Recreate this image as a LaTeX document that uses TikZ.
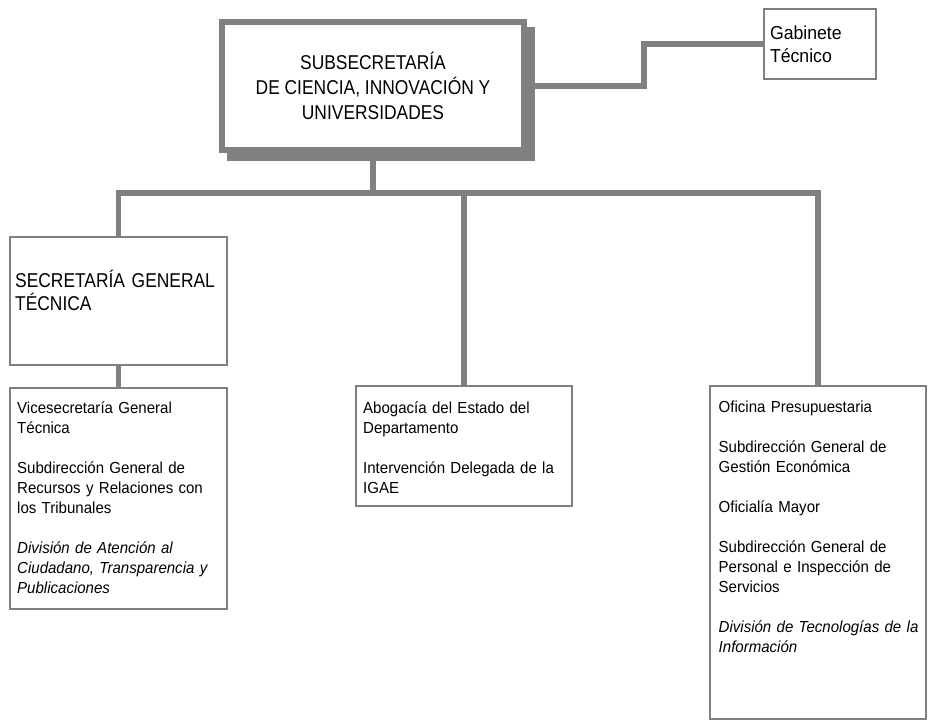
\documentclass[tikz,border=0pt]{standalone}
\usepackage{fontspec}
\setmainfont{Liberation Sans}[FakeStretch=0.94]
\newfontfamily\narrowfont{Liberation Sans}[FakeStretch=0.87]
\usepackage{xcolor}
\definecolor{boxgray}{RGB}{128,128,128}

\begin{document}
\begin{tikzpicture}[
                line join=miter,
                headbox/.style={shape=rectangle, draw=boxgray, fill=white, line width=6pt, inner sep=0pt, align=center, font=\narrowfont\fontsize{20}{25}\selectfont},
                unitbox/.style={shape=rectangle, draw=boxgray, fill=white, line width=2pt, inner sep=0pt},
                unittext/.style={anchor=base west, inner sep=0pt, text width=210pt, align=left, font=\fontsize{16}{20}\selectfont},
                link/.style={draw=boxgray, line width=5.5pt}
                ]
                \useasboundingbox (0pt, 0pt) rectangle (937pt, -721pt);

                %% Head
                \fill[boxgray] (227pt, -27pt) rectangle (535pt, -161pt);
                \node[headbox, minimum width=302pt, minimum height=128pt] (main) at (373pt, -86pt) {SUBSECRETARÍA\\DE CIENCIA, INNOVACIÓN Y\\UNIVERSIDADES};
                \node[unitbox, minimum width=112pt, minimum height=70pt, text width=100pt, align=left, font=\fontsize{18.8}{23}\selectfont] (gab) at (820pt, -44pt) {Gabinete\\Técnico};

                %% Units
                \node[unitbox, minimum width=217pt, minimum height=128pt] (sgt) at (118.5pt, -301pt) {};
                \node[unittext, font=\narrowfont\fontsize{20}{23}\selectfont] (sgtlabel) at (15pt, -287pt) {SECRETARÍA GENERAL\\TÉCNICA};

                \node[unitbox, minimum width=217pt, minimum height=221pt] (vice) at (118.5pt, -498.5pt) {};
                \node[unitbox, minimum width=216pt, minimum height=120pt] (abo) at (464pt, -446pt) {};
                \node[unitbox, minimum width=216pt, minimum height=333pt] (ofi) at (818pt, -552.5pt) {};

                % Unit texts
                \node[unittext] (vicelabel) at (17pt, -413pt) {Vicesecretaría General\\Técnica\\[20pt]
                    Subdirección General de\\Recursos y Relaciones con\\los Tribunales\\[20pt]
                    {\itshape División de Atención al\\Ciudadano, Transparencia y\\Publicaciones}};
                \node[unittext] (abolabel) at (363pt, -413pt) {Abogacía del Estado del\\Departamento\\[20pt]
                    Intervención Delegada de la\\IGAE};
                \node[unittext] (ofilabel) at (718.5pt, -412pt) {Oficina Presupuestaria\\[20pt]
                    Subdirección General de\\Gestión Económica\\[20pt]
                    Oficialía Mayor\\[20pt]
                    Subdirección General de\\Personal e Inspección de\\Servicios\\[20pt]
                    {\itshape División de Tecnologías de la\\Información}};

                %% Links
                \coordinate (bus) at (373pt, -193pt);
                \draw[link] (main.east) -- (644pt, -86pt) |- (gab.west);
                \draw[link] (main.south) -- (bus);
                \draw[link] (sgt.north) |- (bus) -| (ofi.north);
                \draw[link] (abo.north) -- (abo.north |- bus);
                \draw[link] (sgt.south) -- (vice.north);
\end{tikzpicture}
\end{document}
